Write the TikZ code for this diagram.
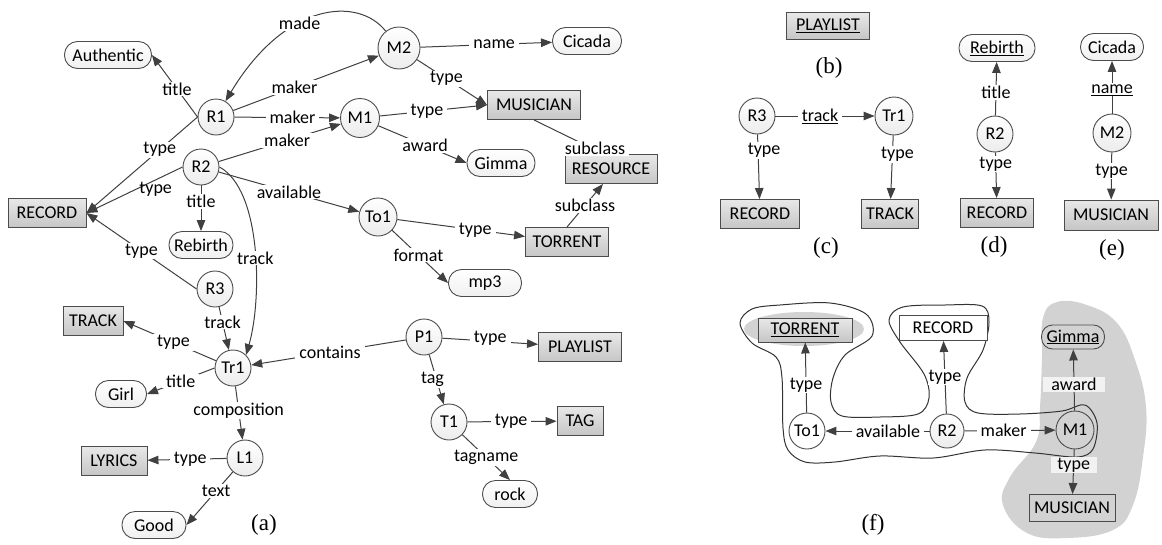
\documentclass[tikz,border=0pt]{standalone}
\usepackage{fontspec}
\setmainfont{Carlito}
\newfontfamily\capfont{Liberation Serif}
\usetikzlibrary{arrows.meta}
\begin{document}
\begin{tikzpicture}[x=1pt,y=-1pt,
  every node/.style={font=\fontsize{18}{20}\selectfont, text=black},
  nres/.style={circle, draw=black!70, line width=0.9pt, minimum size=36pt, inner sep=1pt},
  res/.style={nres, top color=white, bottom color=gray!15},
  ncls/.style={rectangle, draw=black!70, line width=0.9pt, minimum height=29pt, inner xsep=5pt},
  cls/.style={ncls, top color=gray!18, bottom color=gray!45},
  nlit/.style={rectangle, rounded corners=13pt, draw=black!70, line width=0.9pt, minimum height=27pt, inner xsep=5pt},
  lit/.style={nlit, top color=white, bottom color=gray!12},
  edge/.style={draw=black!75, line width=1pt, -{Triangle[length=11pt,width=8.5pt]}},
  lbl/.style={fill=white, inner xsep=4pt, inner ysep=1pt},
  captxt/.style={font=\capfont\fontsize{23}{26}\selectfont},
]
\useasboundingbox (0,0) rectangle (1162,544);

% ---------------- (a) ----------------
\node[lit, minimum width=87pt] (Auth) at (108,55) {Authentic};
\node[res] (R1) at (216,117) {R1};
\node[res, minimum size=42pt] (M2) at (399,48) {M2};
\node[res, minimum size=39pt] (M1) at (360,118) {M1};
\node[res] (R2) at (201,167) {R2};
\node[cls, minimum width=78pt] (REC) at (47,213) {RECORD};
\node[lit, minimum width=64pt] (Reb) at (201,245) {Rebirth};
\node[res, minimum size=38pt] (To1) at (378,217) {To1};
\node[lit, minimum width=69pt] (Cic) at (587,41) {Cicada};
\node[cls, minimum width=93pt] (MUS) at (534,105) {MUSICIAN};
\node[lit, minimum width=68pt] (Gim) at (501,163) {Gimma};
\node[cls, minimum width=92pt] (RES) at (611,169) {RESOURCE};
\node[cls, minimum width=83pt] (TOR) at (567,242) {TORRENT};
\node[lit, minimum width=73pt] (mp3) at (485,283) {mp3};
\node[res] (P1) at (424,337) {P1};
\node[cls, minimum width=83pt] (PLA) at (580,347) {PLAYLIST};
\node[res] (T1) at (449,422) {T1};
\node[cls, minimum width=46pt] (TAG) at (580,421) {TAG};
\node[lit, minimum width=55pt] (rock) at (510,494) {rock};
\node[res] (R3) at (215,289) {R3};
\node[cls, minimum width=60pt] (TRA) at (93,321) {TRACK};
\node[res] (Tr1) at (233,368) {Tr1};
\node[lit, minimum width=51pt] (Girl) at (121,394) {Girl};
\node[res] (L1) at (245,458) {L1};
\node[cls, minimum width=66pt] (LYR) at (114,461) {LYRICS};
\node[lit, minimum width=64pt] (Good) at (154,525) {Good};
\node[captxt] (capa) at (264,525) {(a)};

\draw[edge] (R1.west) -- node[lbl,pos=.45]{title} (Auth.east);
\draw[edge] (R1.west) -- node[lbl,pos=.34]{type} (REC.east);
\draw[edge] (M2) .. controls (358,-4) and (285,2) .. node[lbl,pos=.6]{made} (R1);
\draw[edge] (R1) -- node[lbl,pos=.42]{maker} (M2);
\draw[edge] (R1) -- node[lbl,pos=.55]{maker} (M1);
\draw[edge] (R2) -- node[lbl,pos=.56]{maker} (M1);
\draw[edge] (R2.west) -- node[lbl,pos=.28,yshift=-9pt,fill=none]{type} (REC.east);
\draw[edge] (R2) -- node[lbl,pos=.35]{title} (Reb);
\draw[edge] (R2) -- node[lbl,pos=.5]{available} (To1);
\draw[edge] (R2.east) .. controls (262,190) and (262,300) .. node[lbl,pos=.54]{track} (Tr1.north east);
\draw[edge] (R3.west) -- node[lbl,pos=.5]{type} (REC.east);
\draw[edge] (R3) -- node[lbl,pos=.35]{track} (Tr1);
\draw[edge] (Tr1) -- node[lbl,pos=.46]{type} (TRA.east);
\draw[edge] (Tr1.west) -- node[lbl,pos=.5]{title} (Girl.east);
\draw[edge] (Tr1) -- node[lbl,pos=.45]{composition} (L1);
\draw[edge] (P1) -- node[lbl,pos=.49]{contains} (Tr1);
\draw[edge] (P1) -- node[lbl,pos=.5,yshift=3pt]{type} (PLA);
\draw[edge] (P1) -- node[lbl,pos=.5,xshift=-4pt]{tag} (T1);
\draw[edge] (T1) -- node[lbl,pos=.49]{type} (TAG);
\draw[edge] (T1) -- node[lbl,pos=.5]{tagname} (rock.north);
\draw[edge] (L1) -- node[lbl,pos=.46]{type} (LYR);
\draw[edge] (L1) -- node[lbl,pos=.36]{text} (Good.east);
\draw[edge] (M1) -- node[lbl,pos=.44]{type} (MUS.west);
\draw[edge] (M1) -- node[lbl,pos=.53]{award} (Gim.west);
\draw[edge] (M2) -- node[lbl,pos=.56]{name} (Cic);
\draw[edge] (M2) -- node[lbl,pos=.42]{type} (MUS.west);
\draw[edge] (To1) -- node[lbl,pos=.61]{type} (TOR);
\draw[edge] (To1) -- node[lbl,pos=.47]{format} (mp3.west);
\draw[edge] (MUS.south) .. controls (575,140) and (595,150) .. node[lbl,pos=.7]{subclass} (RES.north);
\draw[edge] (TOR.north) -- node[lbl,pos=.5]{subclass} ([xshift=-8pt]RES.south);

% ---------------- (b) ----------------
\node[cls, minimum width=83pt, minimum height=27pt] (bPLA) at (828,26) {\underline{PLAYLIST}};
\node[captxt] (capb) at (829,68) {(b)};

% ---------------- (c) ----------------
\node[res] (cR3) at (757,116) {R3};
\node[res, minimum size=38pt] (cTr1) at (894,116) {Tr1};
\node[cls, minimum width=79pt] (cREC) at (760,214) {RECORD};
\node[cls, minimum width=54pt] (cTRA) at (890,214) {TRACK};
\node[captxt] (capc) at (826,248) {(c)};
\draw[edge] (cR3) -- node[lbl,pos=.45]{\underline{track}} (cTr1);
\draw[edge] (cR3) -- node[lbl,pos=.25,xshift=6pt,inner xsep=1pt]{type} (cREC);
\draw[edge] (cTr1) -- node[lbl,pos=.3,xshift=5pt,inner xsep=1pt]{type} (cTRA);

% ---------------- (d) ----------------
\node[lit, minimum width=76pt] (dReb) at (997,48) {\underline{Rebirth}};
\node[res] (dR2) at (995,134) {R2};
\node[cls, minimum width=73pt] (dREC) at (997,213) {RECORD};
\node[captxt] (capd) at (994,247) {(d)};
\draw[edge] (dR2) -- node[lbl,pos=.43]{title} (dReb);
\draw[edge] (dR2) -- node[lbl,pos=.25]{type} (dREC);

% ---------------- (e) ----------------
\node[lit, minimum width=63pt] (eCic) at (1112,47) {Cicada};
\node[res, minimum size=38pt] (eM2) at (1112,133) {M2};
\node[cls, minimum width=94pt, minimum height=30pt] (eMUS) at (1111,215) {MUSICIAN};
\node[captxt] (cape) at (1112,250) {(e)};
\draw[edge] (eM2) -- node[lbl,pos=.45]{\underline{name}} (eCic);
\draw[edge] (eM2) -- node[lbl,pos=.4]{type} (eMUS);

% ---------------- (f) ----------------
\fill[gray!35] plot[smooth cycle, tension=0.7] coordinates {
  (1057,302) (1087,305) (1117,323) (1135,360) (1146,407) (1143,457)
  (1133,505) (1113,530) (1067,538) (1027,533) (1003,505) (1010,477)
  (1036,442) (1040,407) (1042,357) (1043,318)};
\fill[gray!35] (804,329) ellipse (60pt and 17pt);
\draw[black!80, line width=1pt] plot[smooth cycle, tension=0.55] coordinates {
  (780,305) (830,303) (866,314) (872,336) (845,355) (833,378) (831,402)
  (842,416) (880,417) (918,414) (929,398) (924,374) (900,342) (889,320)
  (903,307) (945,305) (982,306) (989,322) (983,350) (967,378) (965,402)
  (978,413) (1020,414) (1062,411) (1085,405) (1097,423) (1093,449)
  (1077,457) (1035,453) (985,450) (933,458) (880,456) (835,462) (805,462)
  (788,450) (783,428) (782,378) (776,357) (752,343) (740,323) (752,309)};

\node[cls, minimum width=94pt, minimum height=24pt] (fTOR) at (805,330) {\underline{TORRENT}};
\node[ncls, fill=white, minimum width=88pt, minimum height=25pt] (fREC) at (943,328) {RECORD};
\node[nlit, rounded corners=11pt, minimum width=60pt, minimum height=24pt] (fGim) at (1073,337) {\underline{Gimma}};
\node[ncls, minimum width=83pt, minimum height=27pt] (fMUS) at (1072,508) {MUSICIAN};
\node[nres, fill=white] (fTo1) at (807,431) {To1};
\node[res, minimum size=34pt] (fR2) at (947,431) {R2};
\node[nres, minimum size=38pt] (fM1) at (1075,430) {M1};
\node[captxt] (capf) at (873,525) {(f)};

\draw[edge] (fTo1) -- node[lbl,pos=.39]{type} (fTOR);
\draw[edge] (fR2) -- node[lbl,pos=.4]{available} (fTo1);
\draw[edge] (fR2) -- node[lbl,pos=.5,inner xsep=1pt]{type} (fREC);
\draw[edge] (fR2) -- node[lbl,pos=.43]{maker} (fM1);
\draw[edge] (fM1) -- node[lbl,fill=gray!10,minimum width=62pt,pos=.43]{award} (fGim);
\draw[edge] (fM1) -- node[lbl,fill=gray!10,minimum width=46pt,pos=.35]{type} (fMUS);
\end{tikzpicture}
\end{document}
